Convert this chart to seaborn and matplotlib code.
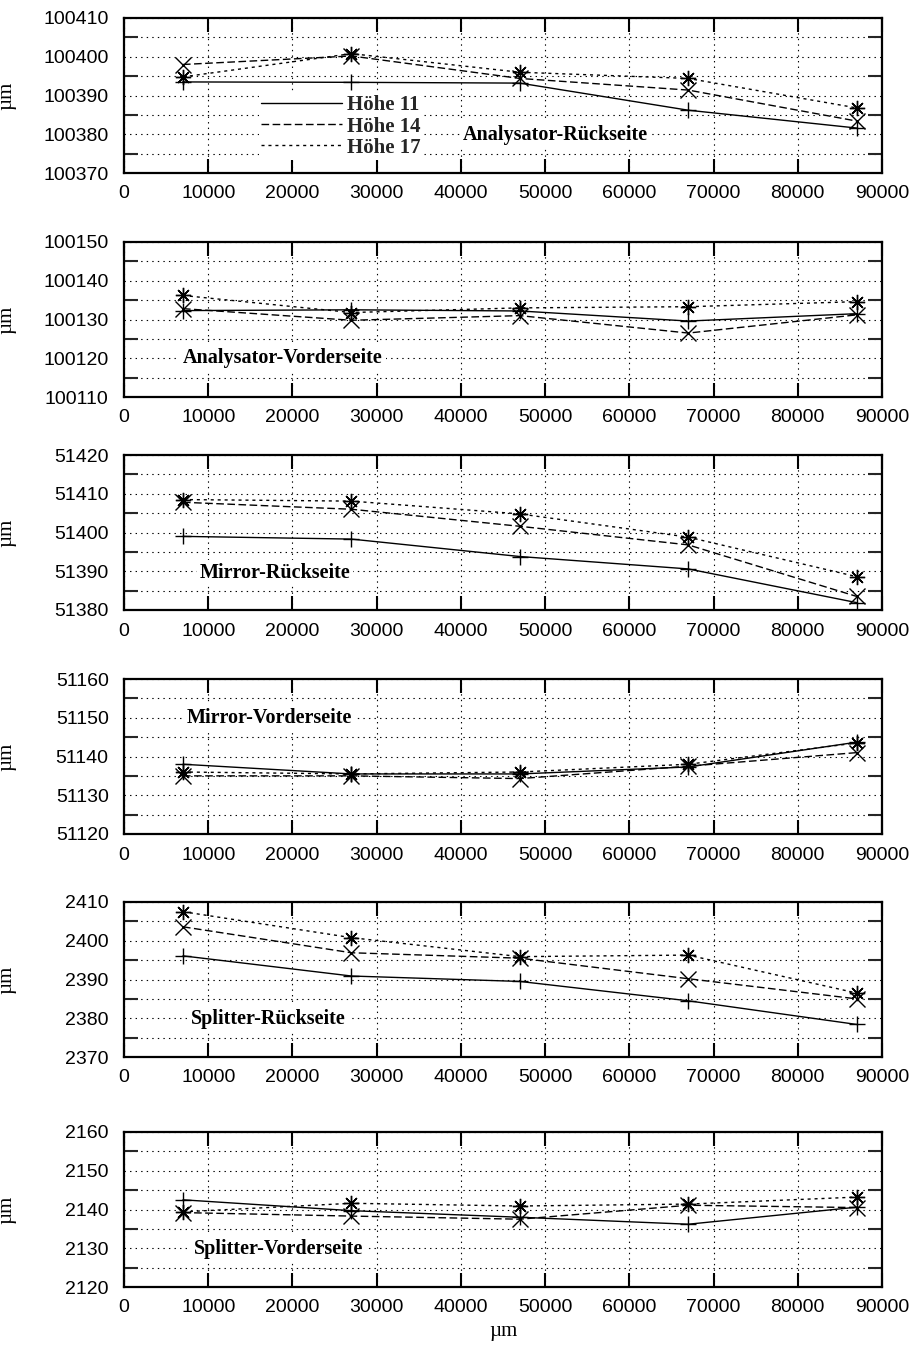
import numpy as np
import pandas as pd
import matplotlib
matplotlib.use("Agg")
import matplotlib.pyplot as plt
import seaborn as sns
from matplotlib.ticker import MultipleLocator, ScalarFormatter
from matplotlib.lines import Line2D

# ---------------- data ----------------
x_pos = [7000, 27000, 47000, 67000, 87000]
series_names = ["Höhe 11", "Höhe 14", "Höhe 17"]
panel_titles = ["Analysator-Rückseite", "Analysator-Vorderseite", "Mirror-Rückseite",
                "Mirror-Vorderseite", "Splitter-Rückseite", "Splitter-Vorderseite"]
y_ranges = [(100370, 100410), (100110, 100150), (51380, 51420),
            (51120, 51160), (2370, 2410), (2120, 2160)]

ana_rueck_h11 = [100393.5, 100393.4, 100393.2, 100386.2, 100381.6]
ana_rueck_h14 = [100398.0, 100400.2, 100394.4, 100391.4, 100383.4]
ana_rueck_h17 = [100394.8, 100400.8, 100396.0, 100394.4, 100386.8]

ana_vorder_h11 = [100132.3, 100132.5, 100132.2, 100129.6, 100131.5]
ana_vorder_h14 = [100132.8, 100129.8, 100131.0, 100126.5, 100131.2]
ana_vorder_h17 = [100136.2, 100131.8, 100133.0, 100133.3, 100134.6]

mir_rueck_h11 = [51399.0, 51398.3, 51393.8, 51390.6, 51381.9]
mir_rueck_h14 = [51407.8, 51406.0, 51401.6, 51396.8, 51383.5]
mir_rueck_h17 = [51408.5, 51408.1, 51404.8, 51398.8, 51388.6]

mir_vorder_h11 = [51138.0, 51135.5, 51135.5, 51137.3, 51143.7]
mir_vorder_h14 = [51135.0, 51135.0, 51134.3, 51137.5, 51141.0]
mir_vorder_h17 = [51136.0, 51135.5, 51136.0, 51138.0, 51143.5]

spl_rueck_h11 = [2396.1, 2390.9, 2389.5, 2384.5, 2378.4]
spl_rueck_h14 = [2403.6, 2396.9, 2395.5, 2390.2, 2385.0]
spl_rueck_h17 = [2407.5, 2400.8, 2395.9, 2396.3, 2386.5]

spl_vorder_h11 = [2142.5, 2139.7, 2138.0, 2136.2, 2140.6]
spl_vorder_h14 = [2139.2, 2138.3, 2137.5, 2141.1, 2140.5]
spl_vorder_h17 = [2139.4, 2141.6, 2140.9, 2141.4, 2143.2]

panel_values = [
    [ana_rueck_h11, ana_rueck_h14, ana_rueck_h17],
    [ana_vorder_h11, ana_vorder_h14, ana_vorder_h17],
    [mir_rueck_h11, mir_rueck_h14, mir_rueck_h17],
    [mir_vorder_h11, mir_vorder_h14, mir_vorder_h17],
    [spl_rueck_h11, spl_rueck_h14, spl_rueck_h17],
    [spl_vorder_h11, spl_vorder_h14, spl_vorder_h17],
]

# ---------------- style / layout ----------------
sns.set_theme(style="ticks")
plt.rcParams["font.family"] = ["Liberation Sans", "DejaVu Sans"]
plt.rcParams["lines.scale_dashes"] = False

W, H = 909, 1349
fig = plt.figure(figsize=(W / 100, H / 100), dpi=100)

ax_left_px, ax_right_px = 124, 882
panel_tops_px = [18, 242, 455, 679, 902, 1132]
panel_h_px = 155

# title anchor (left x in data units, y as axes fraction)
title_pos = [(40250, 0.245), (7000, 0.25), (9000, 0.24),
             (7500, 0.75), (8000, 0.245), (8300, 0.245)]

styles = [
    dict(linestyle="-", marker="+"),
    dict(linestyle=(0, (5.5, 2.5)), marker="x"),
    dict(linestyle=(0, (2.2, 2.8)), marker=(8, 2, 0)),
]
serif = ["Liberation Serif", "DejaVu Serif"]

for i in range(6):
    top = panel_tops_px[i]
    rect = [ax_left_px / W, 1 - (top + panel_h_px) / H,
            (ax_right_px - ax_left_px) / W, panel_h_px / H]
    ax = fig.add_axes(rect)
    for j, name in enumerate(series_names):
        df = pd.DataFrame({"x": x_pos, "y": panel_values[i][j]})
        sns.lineplot(data=df, x="x", y="y", ax=ax, color="black", lw=1.0,
                     markersize=11, markeredgewidth=1.0, markeredgecolor="black",
                     linestyle=styles[j]["linestyle"], marker=styles[j]["marker"],
                     zorder=5)
    ax.set_xlim(0, 90000)
    ax.set_ylim(*y_ranges[i])
    ax.xaxis.set_major_locator(MultipleLocator(10000))
    ax.yaxis.set_major_locator(MultipleLocator(10))
    ax.yaxis.set_minor_locator(MultipleLocator(5))
    fmt = ScalarFormatter(useOffset=False)
    fmt.set_scientific(False)
    ax.yaxis.set_major_formatter(fmt)
    ax.grid(True, which="both", color="black", linestyle=(0, (1, 3)), linewidth=0.8)
    ax.tick_params(axis="x", which="major", direction="in", length=10, width=1.5,
                   top=True, bottom=True, labelsize=14, pad=9, colors="black")
    ax.tick_params(axis="y", which="major", direction="in", length=0,
                   labelsize=14, pad=11, colors="black")
    ax.tick_params(axis="y", which="minor", direction="in", length=10, width=1.5,
                   left=True, right=True)
    for sp in ax.spines.values():
        sp.set_linewidth(1.6)
        sp.set_color("black")
    ax.set_xlabel("")
    ax.set_ylabel("µm", family=serif, fontsize=15, color="black")
    ax.yaxis.set_label_coords(-0.142, 0.5)
    tx, ty = title_pos[i]
    ax.text(tx, ty, panel_titles[i], transform=ax.get_xaxis_transform(),
            family=serif, fontweight="bold", fontsize=14.5, va="center", ha="left",
            color="black", zorder=4,
            bbox=dict(facecolor="white", edgecolor="none", pad=2))
    if i == 0:
        handles = [Line2D([], [], color="black", lw=1.0, linestyle=styles[k]["linestyle"])
                   for k in range(3)]
        leg = ax.legend(handles, series_names, loc="upper left",
                        bbox_to_anchor=(0.178, 0.515), frameon=True, framealpha=1,
                        edgecolor="none", facecolor="white", fancybox=False,
                        handlelength=3.9, handletextpad=0.25, labelspacing=0.06,
                        borderpad=0.1, borderaxespad=0,
                        prop=dict(family=serif, weight="bold", size=15))
        leg.set_zorder(4)
    if i == 5:
        ax.set_xlabel("µm", family=serif, fontsize=15, color="black", labelpad=4)

fig.savefig("out.png", dpi=100)
